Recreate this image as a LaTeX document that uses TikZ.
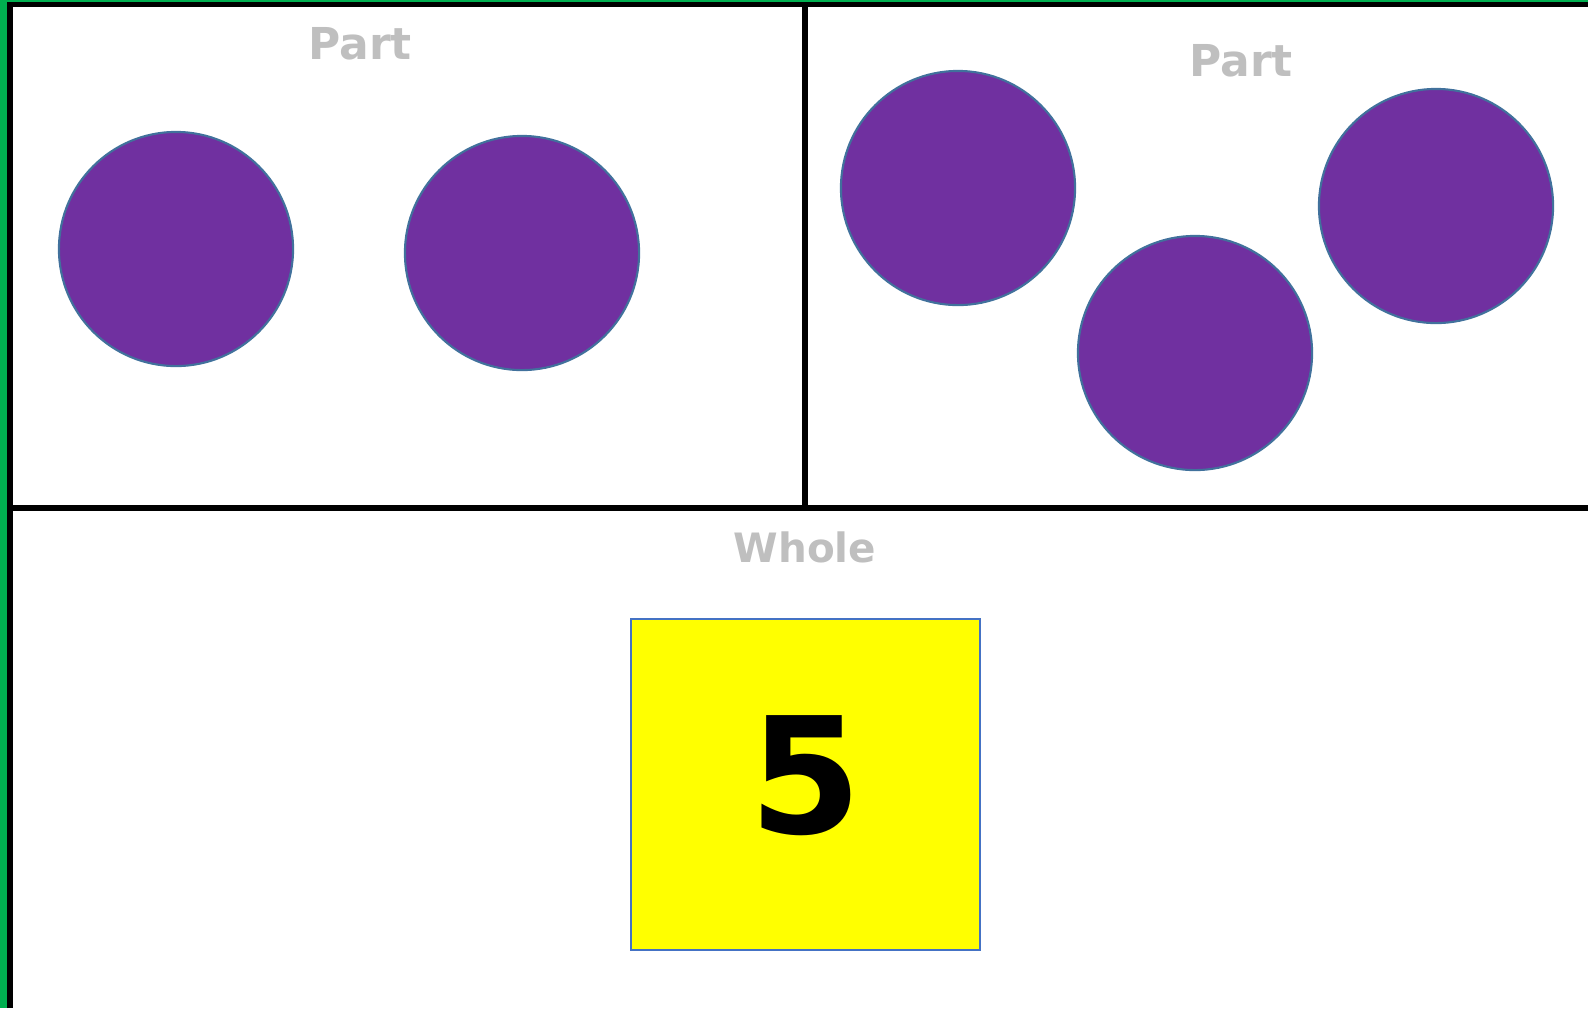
\documentclass[tikz,border=0pt]{standalone}
\usepackage{fontspec}
\setmainfont{DejaVu Sans}
\usepackage{xcolor}
\usetikzlibrary{positioning}

\definecolor{framegreen}{HTML}{00B050}
\definecolor{dotpurple}{HTML}{7030A0}
\definecolor{dotedge}{HTML}{41719C}
\definecolor{boxedge}{HTML}{4472C4}
\definecolor{boxfill}{RGB}{255,255,0}
\definecolor{headgray}{HTML}{BFBFBF}

\begin{document}
\begin{tikzpicture}[x=0.01cm, y=-0.01cm,
  counter/.style={circle, draw=dotedge, fill=dotpurple, line width=0.6pt,
                  minimum size=2.34cm, inner sep=0pt},
  heading/.style={font=\fontsize{12.5}{15}\selectfont\bfseries, text=headgray},
  divider/.style={line width=1.6pt, black},
  wholebox/.style={rectangle, draw=boxedge, fill=boxfill, line width=0.6pt,
                   minimum width=3.49cm, minimum height=3.31cm,
                   font=\fontsize{46}{50}\selectfont\bfseries},
]
  \useasboundingbox (0,0) rectangle (1588,1008);

  % Green edge
  \fill[framegreen] (0,0) rectangle (7,1008);
  \fill[framegreen] (0,0) rectangle (1588,2);

  % Frame and dividers
  \draw[divider] (10,1008) -- (10,4.5) -- (1588,4.5);
  \draw[divider] (10,508) -- (1588,508);
  \draw[divider] (805,4.5) -- (805,508);

  % Headings
  \node[heading] at (360,44)  (partL) {Part};
  \node[heading] at (1241,61) (partR) {Part};
  \node[heading, font=\fontsize{11.5}{14}\selectfont\bfseries] at (805,547) (whole) {Whole};

  % Left part: two counters
  \node[counter] at (176,249)  (c1) {};
  \node[counter] at (522,253)  (c2) {};

  % Right part: three counters
  \node[counter] at (958,188)  (c3) {};
  \node[counter] at (1195,353) (c4) {};
  \node[counter] at (1436,206) (c5) {};

  % Whole
  \node[wholebox] at (805.5,784.5) (total) {};
  \node[font=\fontsize{46}{50}\selectfont\bfseries] at (806,776) (num) {5};
\end{tikzpicture}
\end{document}
